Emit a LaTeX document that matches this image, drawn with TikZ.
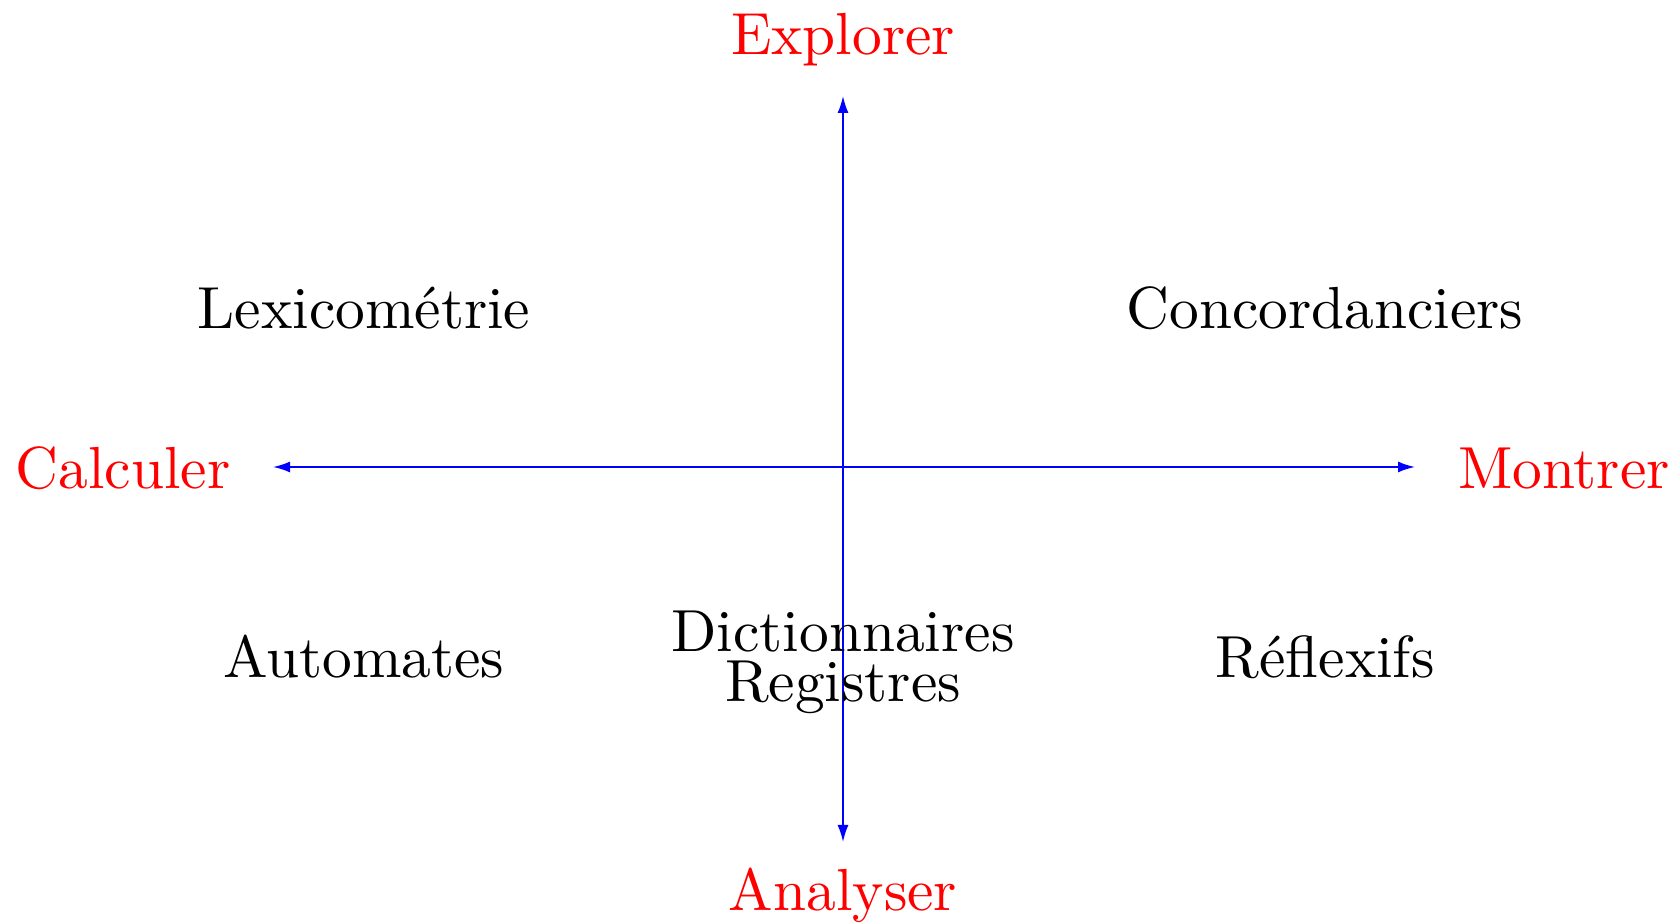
\documentclass[tikz,border=0pt]{standalone}
\usetikzlibrary{arrows.meta}
\begin{document}
\begin{tikzpicture}[
  lbl/.style={anchor=base, inner sep=0pt, font=\fontsize{10}{12}\selectfont, scale=1.69, transform shape},
  pole/.style={lbl, text=red},
  axis/.style={blue, line width=0.5pt, -{Latex[length=1.7mm,width=1.1mm]}}
]
\useasboundingbox (0,0) rectangle (16.8,9.24);
\coordinate (o) at (8.43,4.57);
\coordinate (n) at (8.43,8.28);
\coordinate (s) at (8.43,0.82);
\coordinate (w) at (2.73,4.57);
\coordinate (e) at (14.15,4.57);
\draw[axis] (o) -- (n);
\draw[axis] (o) -- (s);
\draw[axis] (o) -- (w);
\draw[axis] (o) -- (e);
\node[pole] (explorer) at (8.43,8.69) {Explorer};
\node[pole] (analyser) at (8.43,0.13) {Analyser};
\node[pole] (calculer) at (1.23,4.35) {Calculer};
\node[pole] (montrer) at (15.64,4.35) {Montrer};
\node[lbl] (lexico) at (3.64,5.95) {Lexicométrie};
\node[lbl] (concord) at (13.25,5.95) {Concordanciers};
\node[lbl] (automates) at (3.64,2.46) {Automates};
\node[lbl] (reflexifs) at (13.25,2.46) {Réflexifs};
\node[lbl] (dico) at (8.43,2.72) {Dictionnaires};
\node[lbl] (registres) at (8.43,2.22) {Registres};
\end{tikzpicture}
\end{document}
